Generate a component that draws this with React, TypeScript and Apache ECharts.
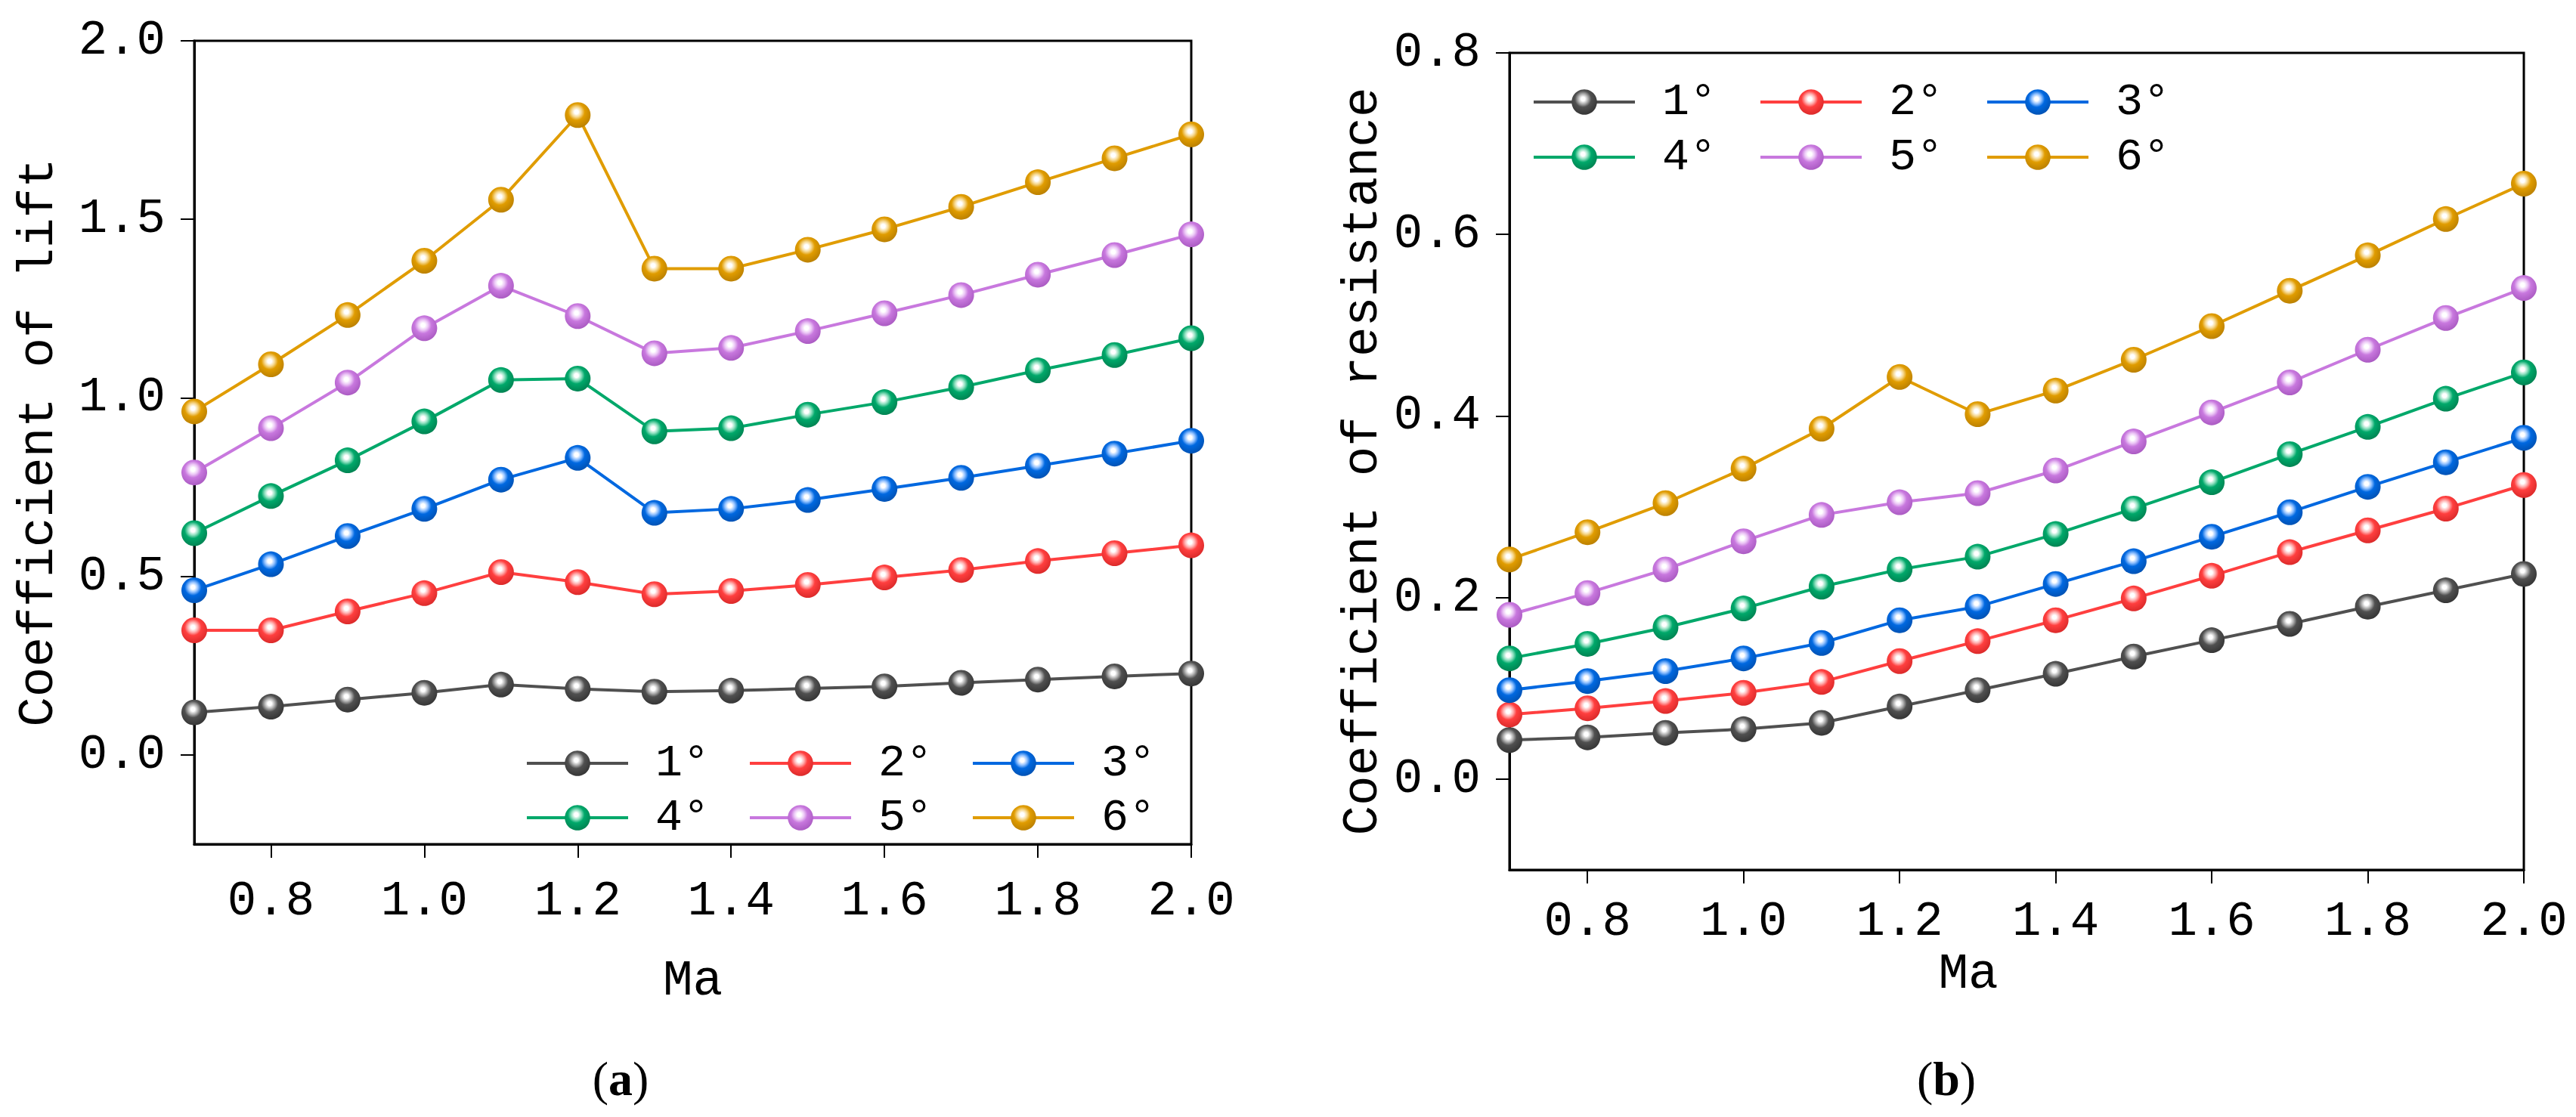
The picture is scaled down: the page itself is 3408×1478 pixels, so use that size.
import React, { useEffect, useRef } from "react";
import * as echarts from "echarts";

const ma = [0.7, 0.8, 0.9, 1.0, 1.1, 1.2, 1.3, 1.4, 1.5, 1.6, 1.7, 1.8, 1.9, 2.0];
const seriesNames = ["1°", "2°", "3°", "4°", "5°", "6°"];

const lift1 = [0.119, 0.135, 0.155, 0.174, 0.197, 0.185, 0.177, 0.18, 0.186, 0.192, 0.202, 0.211, 0.22, 0.228];
const lift2 = [0.349, 0.349, 0.402, 0.453, 0.512, 0.484, 0.45, 0.459, 0.476, 0.497, 0.518, 0.543, 0.565, 0.587];
const lift3 = [0.461, 0.534, 0.613, 0.689, 0.771, 0.832, 0.678, 0.689, 0.714, 0.745, 0.776, 0.81, 0.844, 0.88];
const lift4 = [0.621, 0.725, 0.825, 0.934, 1.05, 1.054, 0.906, 0.915, 0.953, 0.988, 1.03, 1.077, 1.12, 1.167];
const lift5 = [0.791, 0.915, 1.043, 1.195, 1.314, 1.229, 1.125, 1.14, 1.187, 1.237, 1.288, 1.345, 1.4, 1.458];
const lift6 = [0.962, 1.094, 1.232, 1.384, 1.555, 1.792, 1.362, 1.362, 1.415, 1.472, 1.535, 1.604, 1.671, 1.738];

const res1 = [0.043, 0.046, 0.051, 0.055, 0.062, 0.08, 0.098, 0.116, 0.135, 0.153, 0.171, 0.19, 0.208, 0.226];
const res2 = [0.071, 0.078, 0.086, 0.095, 0.107, 0.13, 0.152, 0.175, 0.199, 0.224, 0.25, 0.274, 0.298, 0.324];
const res3 = [0.098, 0.108, 0.119, 0.133, 0.15, 0.175, 0.19, 0.215, 0.24, 0.267, 0.294, 0.322, 0.349, 0.376];
const res4 = [0.133, 0.149, 0.167, 0.188, 0.212, 0.231, 0.245, 0.27, 0.298, 0.327, 0.358, 0.388, 0.419, 0.448];
const res5 = [0.181, 0.205, 0.231, 0.262, 0.291, 0.305, 0.315, 0.34, 0.372, 0.404, 0.437, 0.473, 0.508, 0.541];
const res6 = [0.242, 0.272, 0.304, 0.342, 0.386, 0.443, 0.402, 0.428, 0.462, 0.499, 0.538, 0.577, 0.617, 0.656];

const xTicks = [0.8, 1.0, 1.2, 1.4, 1.6, 1.8, 2.0];
const liftTicks = [0, 0.5, 1.0, 1.5, 2.0];
const resTicks = [0, 0.2, 0.4, 0.6, 0.8];

const colors = ["#505050", "#ff3f3f", "#0068e0", "#00a86a", "#c878de", "#e09c00"];
const lights = ["#b0b0b0", "#ffb0b0", "#90c0ff", "#90e0c0", "#ecc8f6", "#f6d890"];
const darks = ["#333333", "#d82828", "#0050b0", "#008050", "#a858c0", "#b87e00"];

const MONO = "Liberation Mono";

function ball(i: number) {
  return {
    type: "radial",
    x: 0.45,
    y: 0.38,
    r: 0.65,
    colorStops: [
      { offset: 0, color: "#ffffff" },
      { offset: 0.12, color: "#ffffff" },
      { offset: 0.3, color: lights[i] },
      { offset: 0.5, color: colors[i] },
      { offset: 1, color: darks[i] },
    ],
  };
}

function makeSeries(data: number[][], xAxisIndex: number) {
  return data.map((vals, i) => ({
    name: seriesNames[i],
    type: "line",
    xAxisIndex,
    yAxisIndex: xAxisIndex,
    data: vals.map((v, k) => [ma[k], v]),
    symbol: "circle",
    symbolSize: 34,
    lineStyle: { color: colors[i], width: 4 },
    itemStyle: { color: ball(i) },
    z: 2 + i,
  }));
}

function makeLegends(left0: number, top0: number, colStep: number, rowStep: number) {
  return seriesNames.map((n, i) => ({
    data: [n],
    left: left0 + (i % 3) * colStep,
    top: top0 + Math.floor(i / 3) * rowStep,
    orient: "horizontal",
    padding: 0,
    itemWidth: 134,
    itemHeight: 42,
    selectedMode: false,
    lineStyle: { width: 4 },
    textStyle: { fontFamily: MONO, fontSize: 60, color: "#000", padding: [0, 0, 0, 31] },
  }));
}

function xAxisOpt(gridIndex: number, margin: number, nameGap: number, namePad: number[]) {
  return {
    type: "value",
    gridIndex,
    min: 0.7,
    max: 2.0,
    name: "Ma",
    nameLocation: "middle",
    nameGap,
    nameTextStyle: { fontFamily: MONO, fontSize: 66, color: "#000", padding: namePad },
    axisLine: { show: true, onZero: false, lineStyle: { color: "#000", width: 3 } },
    axisTick: { show: true, length: 18, lineStyle: { color: "#000", width: 2 }, customValues: xTicks },
    axisLabel: {
      fontFamily: MONO,
      fontSize: 64,
      color: "#000",
      margin,
      customValues: xTicks,
      formatter: (v: number) => v.toFixed(1),
    },
    splitLine: { show: false },
  };
}

function yAxisOpt(gridIndex: number, min: number, max: number, ticks: number[], name: string, nameGap: number) {
  return {
    type: "value",
    gridIndex,
    min,
    max,
    name,
    nameLocation: "middle",
    nameGap,
    nameTextStyle: { fontFamily: MONO, fontSize: 66, color: "#000" },
    axisLine: { show: true, onZero: false, lineStyle: { color: "#000", width: 3 } },
    axisTick: { show: true, length: 18, lineStyle: { color: "#000", width: 2 }, customValues: ticks },
    axisLabel: {
      fontFamily: MONO,
      fontSize: 64,
      color: "#000",
      margin: 38,
      customValues: ticks,
      formatter: (v: number) => v.toFixed(1),
    },
    splitLine: { show: false },
  };
}

export default function App() {
  const ref = useRef<HTMLDivElement>(null);
  useEffect(() => {
    if (!ref.current) return;
    const chart = echarts.init(ref.current, null, { renderer: "svg" });
    const option: any = {
      animation: false,
      backgroundColor: "#ffffff",
      grid: [
        { left: 257, top: 54, width: 1319, height: 1063, show: true, borderColor: "#000", borderWidth: 3, outerBoundsMode: "none" },
        { left: 1997, top: 70, width: 1342, height: 1081, show: true, borderColor: "#000", borderWidth: 3, outerBoundsMode: "none" },
      ],
      xAxis: [xAxisOpt(0, 44, 148, [0, 0, 0, 0]), xAxisOpt(1, 37, 94, [0, 128, 0, 0])],
      yAxis: [
        yAxisOpt(0, -0.25, 2.0, liftTicks, "Coefficient of lift", 173),
        yAxisOpt(1, -0.1, 0.8, resTicks, "Coefficient of resistance", 161),
      ],
      legend: [...makeLegends(695, 980, 295, 72), ...makeLegends(2027, 105, 300, 73)],
      series: [
        ...makeSeries([lift1, lift2, lift3, lift4, lift5, lift6], 0),
        ...makeSeries([res1, res2, res3, res4, res5, res6], 1),
      ],
      graphic: [
        {
          type: "text",
          x: 821,
          y: 1427,
          style: {
            text: "{p|(}{b|a}{p|)}",
            align: "center",
            verticalAlign: "middle",
            rich: {
              p: { fontFamily: "Liberation Serif", fontSize: 64, fill: "#000" },
              b: { fontFamily: "Liberation Serif", fontSize: 64, fontWeight: "bold", fill: "#000" },
            },
          },
        },
        {
          type: "text",
          x: 2575,
          y: 1427,
          style: {
            text: "{p|(}{b|b}{p|)}",
            align: "center",
            verticalAlign: "middle",
            rich: {
              p: { fontFamily: "Liberation Serif", fontSize: 64, fill: "#000" },
              b: { fontFamily: "Liberation Serif", fontSize: 64, fontWeight: "bold", fill: "#000" },
            },
          },
        },
      ],
    };
    chart.setOption(option);
    return () => chart.dispose();
  }, []);
  return (
    <div
      ref={ref}
      style={{ position: "absolute", left: 0, top: 0, width: 3408, height: 1478, background: "#fff" }}
    />
  );
}
